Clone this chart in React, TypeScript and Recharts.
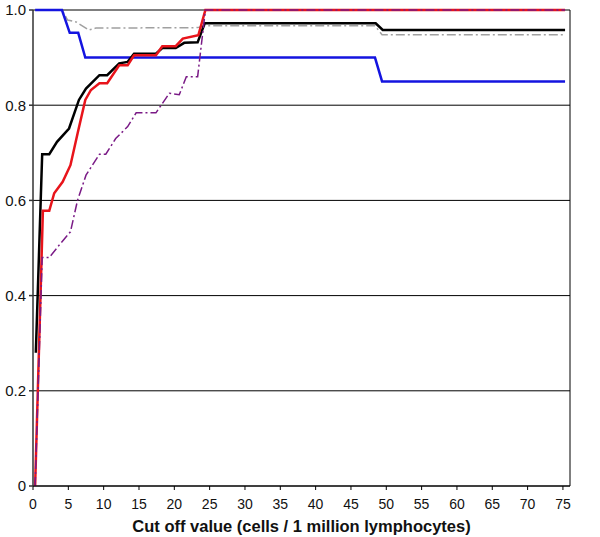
import { LineChart, Line, XAxis, YAxis, CartesianGrid, ReferenceLine } from 'recharts';

// cut off values (x) and curve values (y)
const blackX = [0.4, 1.3, 2.3, 3.4, 5.1, 6.5, 7.5, 9.4, 10.5, 12.2, 13.4, 14.3, 17.4, 18.3, 20.2, 21.4, 23.3, 24.3, 48.5, 49.5, 75.3];
const blackY = [0.28, 0.697, 0.697, 0.723, 0.751, 0.811, 0.835, 0.863, 0.863, 0.888, 0.891, 0.908, 0.908, 0.92, 0.92, 0.931, 0.932, 0.972, 0.972, 0.958, 0.958];

const redX = [0.3, 1.4, 2.3, 3.0, 4.2, 5.3, 6.3, 7.4, 8.2, 9.4, 10.5, 12.2, 13.4, 14.3, 17.4, 18.3, 20.2, 21.2, 23.4, 24.4, 75.3];
const redY = [0, 0.578, 0.578, 0.615, 0.639, 0.674, 0.74, 0.811, 0.832, 0.846, 0.846, 0.884, 0.884, 0.905, 0.905, 0.924, 0.924, 0.94, 0.947, 1.0, 1.0];

const purpleX = [0.3, 1.3, 2.3, 3.7, 5.3, 6.3, 7.5, 9.4, 10.3, 11.7, 13.4, 14.6, 17.4, 19.3, 20.7, 21.7, 23.3, 24.4, 75.3];
const purpleY = [0, 0.48, 0.48, 0.506, 0.534, 0.6, 0.653, 0.697, 0.697, 0.73, 0.755, 0.784, 0.784, 0.825, 0.822, 0.86, 0.86, 1.0, 1.0];

const blueX = [0.3, 4.1, 5.2, 6.4, 7.4, 48.4, 49.4, 75.3];
const blueY = [1.0, 1.0, 0.952, 0.952, 0.9, 0.9, 0.85, 0.85];

const grayX = [0.3, 4.1, 4.9, 6.1, 7.9, 8.9, 23.3, 24.3, 48.4, 49.4, 75.3];
const grayY = [1.0, 1.0, 0.979, 0.975, 0.958, 0.962, 0.963, 0.967, 0.967, 0.948, 0.948];

const xTicks = [0, 5, 10, 15, 20, 25, 30, 35, 40, 45, 50, 55, 60, 65, 70, 75];
const yTicks = [0, 0.2, 0.4, 0.6, 0.8, 1.0];

const pts = (xs: number[], ys: number[]) => xs.map((x, i) => ({ x, y: ys[i] }));

const font = '"Liberation Sans", Arial, sans-serif';

export default function App() {
  return (
    <div style={{ position: 'absolute', left: 0, top: 0, background: '#fff' }}>
      <LineChart width={600} height={537} margin={{ top: 10, right: 30, left: 0, bottom: 0 }}>
        <CartesianGrid horizontal vertical={false} stroke="#000" strokeWidth={1} />
        <XAxis
          type="number"
          dataKey="x"
          domain={[0, 76]}
          ticks={xTicks}
          interval={0}
          height={51}
          stroke="#000"
          tickSize={4}
          tickMargin={9}
          tick={{ fill: '#111', fontSize: 14, fontFamily: font }}
          label={{
            value: 'Cut off value (cells / 1 million lymphocytes)',
            position: 'insideBottom',
            offset: 5,
            style: { fontWeight: 'bold', fontSize: 16.5, fontFamily: font, fill: '#111' },
          }}
        />
        <YAxis
          type="number"
          dataKey="y"
          domain={[0, 1]}
          ticks={yTicks}
          interval={0}
          width={33}
          stroke="#333"
          strokeWidth={1.5}
          tickSize={4}
          tickMargin={3}
          tickFormatter={(v: number) => (v === 0 ? '0' : v.toFixed(1))}
          tick={{ fill: '#111', fontSize: 15, fontFamily: font }}
        />
        <ReferenceLine x={76} stroke="#000" strokeWidth={1} />
        <Line data={pts(grayX, grayY)} dataKey="y" type="linear" stroke="#a0a0a0" strokeWidth={1.5} strokeDasharray="9 3 2 3" dot={false} isAnimationActive={false} />
        <Line data={pts(blueX, blueY)} dataKey="y" type="linear" stroke="#1414e0" strokeWidth={2.5} dot={false} isAnimationActive={false} />
        <Line data={pts(blackX, blackY)} dataKey="y" type="linear" stroke="#000" strokeWidth={2.5} dot={false} isAnimationActive={false} />
        <Line data={pts(redX, redY)} dataKey="y" type="linear" stroke="#e8141b" strokeWidth={2.5} dot={false} isAnimationActive={false} />
        <Line data={pts(purpleX, purpleY)} dataKey="y" type="linear" stroke="#7a1a86" strokeWidth={1.5} strokeDasharray="9 3 2 3" dot={false} isAnimationActive={false} />
      </LineChart>
    </div>
  );
}
